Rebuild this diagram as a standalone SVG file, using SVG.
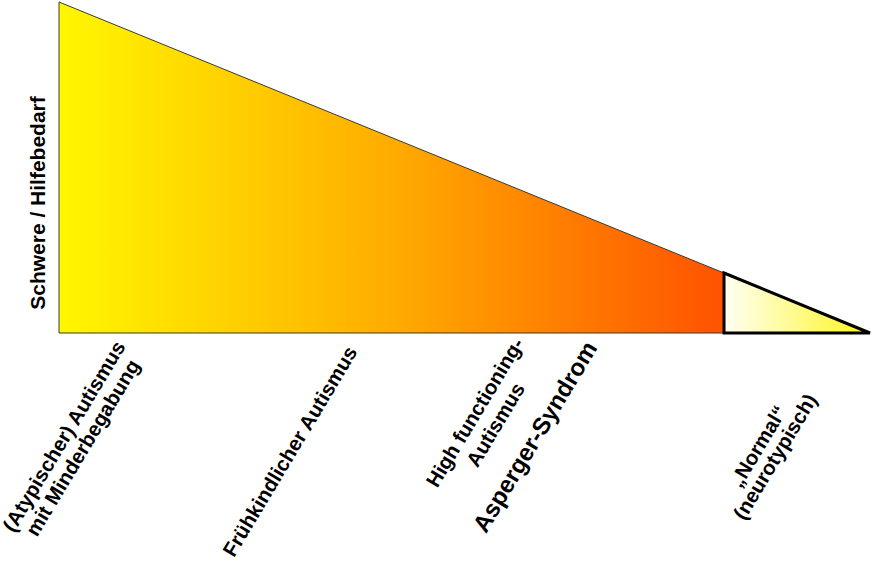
<svg xmlns="http://www.w3.org/2000/svg" width="876" height="562" viewBox="0 0 876 562">
<style>
  .lbl { font-family: "Liberation Sans", Arial, sans-serif; font-weight: bold; font-size: 20.5px; fill: #000; text-anchor: middle; }
  .big { font-size: 24px; }
  .axis { font-size: 21px; }
</style>
<defs>
  <linearGradient id="gMain" x1="59" y1="0" x2="724" y2="0" gradientUnits="userSpaceOnUse">
    <stop offset="0" stop-color="#FFF700"/>
    <stop offset="0.5" stop-color="#FFAC00"/>
    <stop offset="1" stop-color="#FF5200"/>
  </linearGradient>
  <linearGradient id="gNorm" x1="724" y1="0" x2="872" y2="0" gradientUnits="userSpaceOnUse">
    <stop offset="0" stop-color="#FFFFF4"/>
    <stop offset="1" stop-color="#FFF51A"/>
  </linearGradient>
</defs>
<rect width="876" height="562" fill="#FFFFFF"/>
<g id="severity-shape">
  <polygon points="59,2 724,273 724,333 59,333" fill="url(#gMain)" stroke="#3a3a30" stroke-width="1"/>
</g>
<g id="normal-shape">
  <polygon points="724,273 870,333 724,333" fill="url(#gNorm)" stroke="#000" stroke-width="3" stroke-linejoin="miter"/>
</g>
<g id="axis-label">
  <text class="lbl axis" transform="translate(45,203) rotate(-90)">Schwere / Hilfebedarf</text>
</g>
<g id="label-atypisch">
  <text class="lbl" transform="translate(70,440) rotate(-59)"><tspan x="0" y="0">(Atypischer) Autismus</tspan><tspan x="0" y="22">mit Minderbegabung</tspan></text>
</g>
<g id="label-fruehkindlich">
  <text class="lbl" transform="translate(296,455) rotate(-59)">Frühkindlicher Autismus</text>
</g>
<g id="label-hfa">
  <text class="lbl" transform="translate(481,416) rotate(-59)"><tspan x="0" y="0">High functioning-</tspan><tspan x="0" y="24">Autismus</tspan></text>
</g>
<g id="label-asperger">
  <text class="lbl big" transform="translate(542,441) rotate(-59)">Asperger-Syndrom</text>
</g>
<g id="label-normal">
  <text class="lbl" transform="translate(764,450) rotate(-59)"><tspan x="0" y="0">„Normal“</tspan><tspan x="0" y="20">(neurotypisch)</tspan></text>
</g>
</svg>
